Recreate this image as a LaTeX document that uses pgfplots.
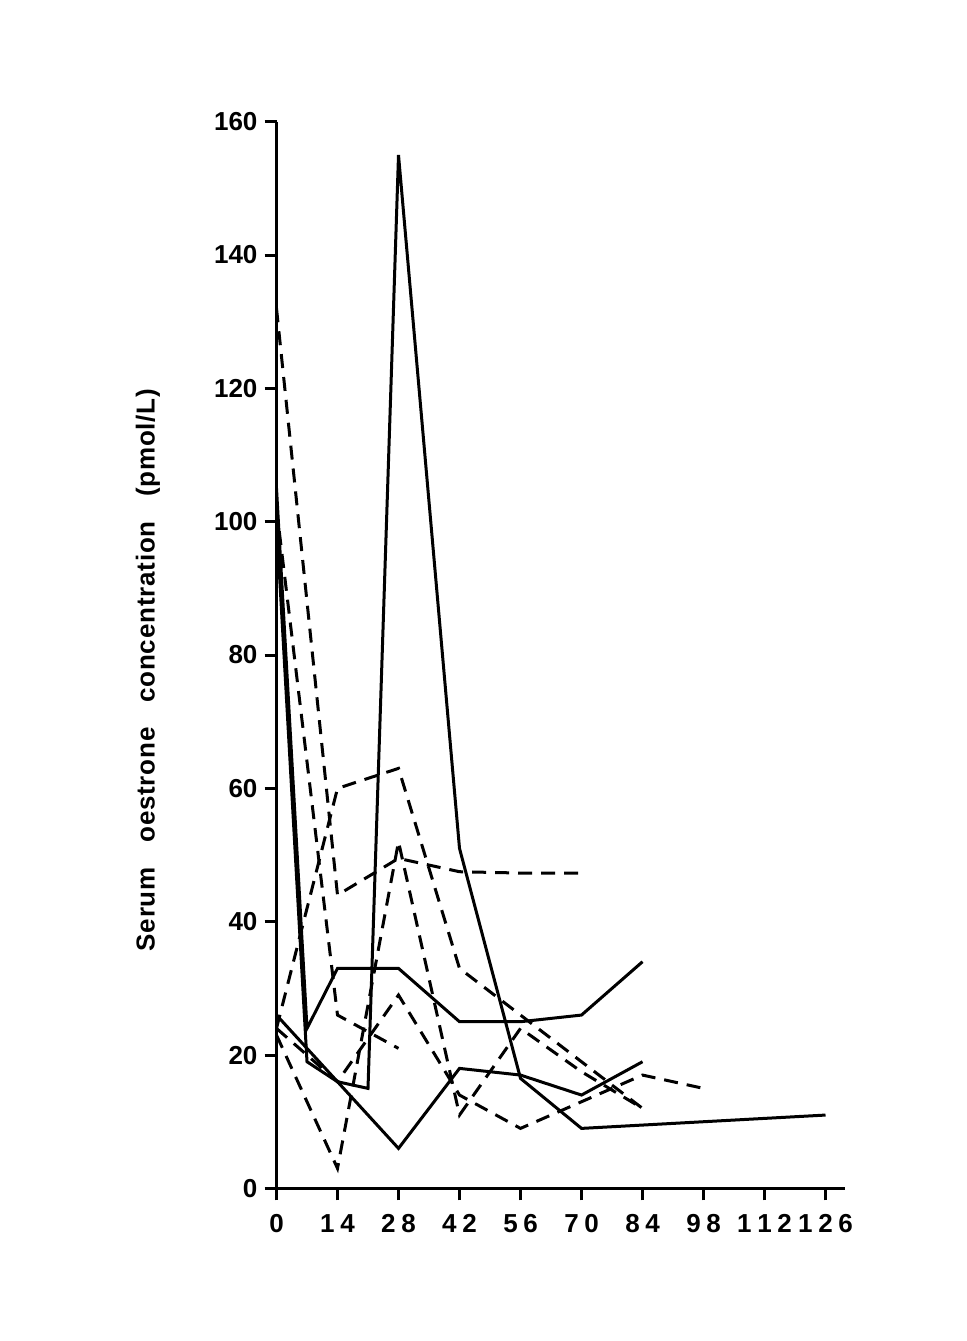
\documentclass[border=0pt]{standalone}
\usepackage{fontspec}
\setmainfont{Liberation Sans}
\newfontfamily\lblfont[LetterSpace=3]{Liberation Sans}
\usepackage{pgfplots}
\pgfplotsset{compat=1.18}
\newcommand{\dg}{\kern2.8pt}
\begin{document}
\begin{tikzpicture}
\useasboundingbox[fill=white] (0pt,0pt) rectangle (483pt,670.5pt);
\begin{axis}[
  at={(138.25pt,76.3pt)}, anchor=south west,
  scale only axis, width=284.1pt, height=533.35pt,
  xmin=0, xmax=130.4, ymin=0, ymax=160,
  axis lines*=left,
  axis line style={line width=1.5pt},
  tick style={line width=1.5pt, black},
  major tick length=6pt, tick align=outside,
  xtick={0,14,...,126}, ytick={0,20,...,160},
  xticklabels={0,1\dg4,2\dg8,4\dg2,5\dg6,7\dg0,8\dg4,9\dg8,1\dg1\dg2,1\dg2\dg6},
  yticklabels={0,20,40,60,80,100,120,140,160},
  xticklabel style={font=\bfseries\fontsize{13}{13}\selectfont, anchor=base, yshift=-16pt},
  yticklabel style={font=\bfseries\fontsize{13}{13}\selectfont},
  clip=false,
  solid line/.style={black, line width=1.5pt, line join=miter},
  dash line/.style={black, line width=1.5pt, dash pattern=on 7pt off 4.5pt},
]
% solid series
\addplot[solid line] coordinates {(0,105) (7,24) (14,33) (28,33) (42,25) (56,25) (70,26) (84,34)};
\addplot[solid line] coordinates {(0,100) (7,19) (14,16) (21,15) (28,155) (42,51) (56,16.5) (70,9) (126,11)};
\addplot[solid line] coordinates {(0,26) (14,16) (28,6) (42,18) (56,17) (70,14) (84,19)};
% dashed series
\addplot[dash line] coordinates {(0,24) (14,60) (28,63) (42,33) (56,26) (70,19) (84,12)};
\addplot[dash line] coordinates {(0,132) (14,44) (28,49.5) (42,47.5) (56,47.3) (70,47.3)};
\addplot[dash line] coordinates {(0,102) (14,26) (28,21)};
\addplot[dash line] coordinates {(0,24) (14,16) (28,29) (42,14) (56,9) (70,13) (84,17) (98,15)};
\addplot[dash line] coordinates {(0,23) (14,3) (28,52) (42,11) (56,24) (70,17.5) (84,12)};
\end{axis}
\node[rotate=90, font=\lblfont\bfseries\fontsize{13}{13}\selectfont] at (74pt,335.5pt) {Serum\hspace{0.95em}oestrone\hspace{0.95em}concentration\hspace{0.95em}(pmol/L)};
\end{tikzpicture}
\end{document}
